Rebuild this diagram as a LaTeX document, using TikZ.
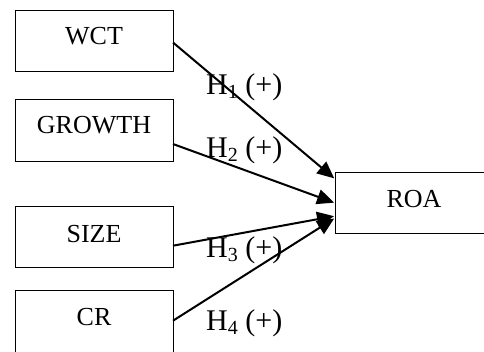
\documentclass[tikz,border=0pt]{standalone}
\usepackage{fontspec}
\setmainfont{Liberation Serif}
\usetikzlibrary{arrows.meta}
\newcommand{\hsub}[1]{H\raisebox{-4pt}{\fontsize{20}{20}\selectfont #1}}
\begin{document}
\begin{tikzpicture}[x=1pt,y=-1pt,
  varbox/.style={draw,line width=1.3pt,minimum width=158pt,inner sep=0pt,anchor=north west},
  boxtext/.style={inner sep=0pt,anchor=base,font=\fontsize{26}{26}\selectfont},
  hyp/.style={inner sep=0pt,anchor=base west,font=\fontsize{30}{30}\selectfont},
  conn/.style={line width=2pt,-{Triangle[length=17pt,width=15pt]},shorten >=1pt}]
\useasboundingbox (0,0) rectangle (484,351);
\node[varbox,minimum height=61pt] (wct) at (15,10) {};
\node[varbox,minimum height=62pt] (growth) at (15,99) {};
\node[varbox,minimum height=61pt] (size) at (15,206) {};
\node[varbox,minimum height=80pt] (cr) at (15,290) {};
\node[draw,line width=1.3pt,minimum width=170pt,minimum height=61pt,inner sep=0pt,anchor=north west] (roa) at (335,172) {};
\node[boxtext] (twct) at (94,44) {WCT};
\node[boxtext] (tgrowth) at (94,133) {GROWTH};
\node[boxtext] (tsize) at (94,242) {SIZE};
\node[boxtext] (tcr) at (94,325) {CR};
\node[boxtext] (troa) at (414,207) {ROA};
\coordinate (s1) at (173,42.5);
\coordinate (s2) at (173,144);
\coordinate (s3) at (173,245.7);
\coordinate (s4) at (173,320.7);
\coordinate (e1) at (335,179);
\coordinate (e2) at (335,203);
\coordinate (e3) at (335,216);
\coordinate (e4) at (335,218);
\draw[conn] (s1) -- (e1);
\draw[conn] (s2) -- (e2);
\draw[conn] (s3) -- (e3);
\draw[conn] (s4) -- (e4);
\node[hyp] (h1) at (206,94) {\hsub{1} (+)};
\node[hyp] (h2) at (206,157) {\hsub{2} (+)};
\node[hyp] (h3) at (206,257) {\hsub{3} (+)};
\node[hyp] (h4) at (206,330) {\hsub{4} (+)};
\end{tikzpicture}
\end{document}
